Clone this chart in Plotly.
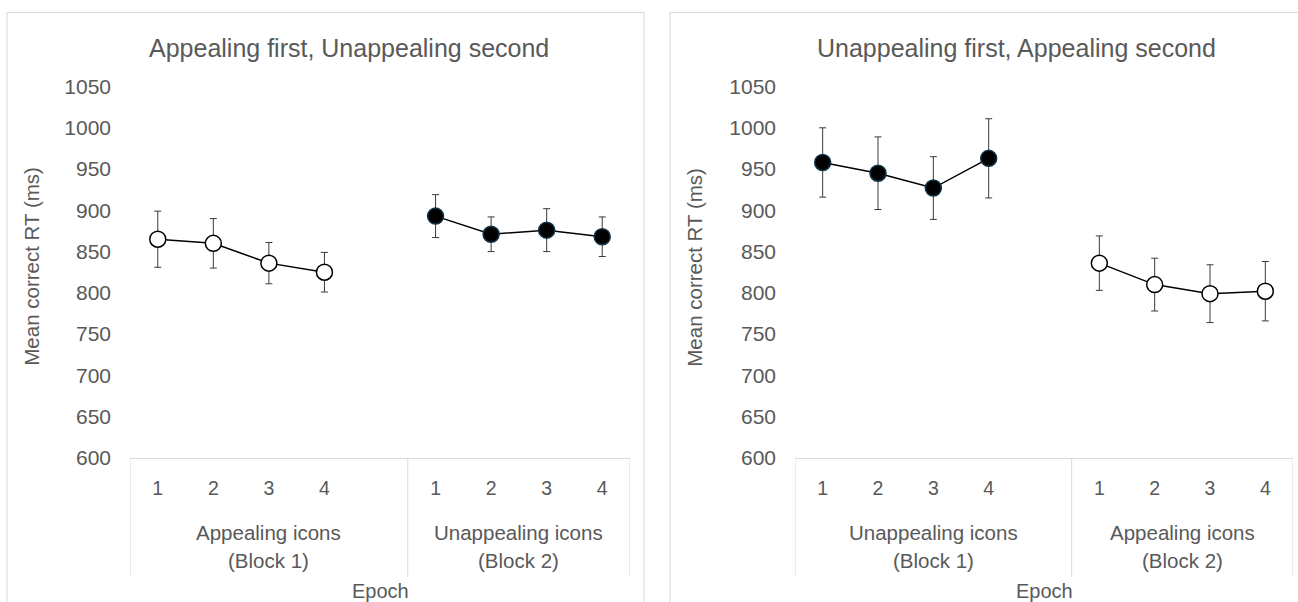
import plotly.graph_objects as go

# Epoch positions on the x axis (block 1 = 1..4, block 2 = 6..9, gap at 5)
epoch_labels = ["1", "2", "3", "4"]
block1_x = [1, 2, 3, 4]
block2_x = [6, 7, 8, 9]

# Left panel: appealing icons first, unappealing icons second
left_block1_rt = [865, 860, 836, 825]
left_block1_err = [34, 30, 25, 24]
left_block2_rt = [893, 871, 876, 868]
left_block2_err = [26, 21, 26, 24]

# Right panel: unappealing icons first, appealing icons second
right_block1_rt = [958, 945, 927, 963]
right_block1_err = [42, 44, 38, 48]
right_block2_rt = [836, 810, 799, 802]
right_block2_err = [33, 32, 35, 36]

panel_titles = ["Appealing first, Unappealing second",
                "Unappealing first, Appealing second"]
group_names = [[("Appealing icons", "(Block 1)"), ("Unappealing icons", "(Block 2)")],
               [("Unappealing icons", "(Block 1)"), ("Appealing icons", "(Block 2)")]]
y_tick_values = [600, 650, 700, 750, 800, 850, 900, 950, 1000, 1050]

W, H = 1298, 602
FONT = "Liberation Sans, Arial, sans-serif"
GREY = "#595959"
FRAME = "#d9d9d9"

# vertical layout helper: page pixel -> paper fraction
Y_OFF, Y_K = 11.5, 0.961


def px(x):
    return x / W


def py(y):
    yy = (y - Y_OFF) / Y_K
    return min(1.0, 1 - yy / H)


OPEN = dict(marker=dict(size=16, color="white", line=dict(color="black", width=1.5)))
FILLED = dict(marker=dict(size=16, color="black", line=dict(color="#123447", width=1.5)))

fig = go.Figure()

panels = [
    ("x", "y", left_block1_rt, left_block1_err, OPEN, left_block2_rt, left_block2_err, FILLED),
    ("x2", "y2", right_block1_rt, right_block1_err, FILLED, right_block2_rt, right_block2_err, OPEN),
]

for xa, ya, m1, e1, s1, m2, e2, s2 in panels:
    for xs, m, e, style in [(block1_x, m1, e1, s1), (block2_x, m2, e2, s2)]:
        fig.add_trace(go.Scatter(
            x=xs, y=m, xaxis=xa, yaxis=ya, mode="lines+markers",
            line=dict(color="black", width=1.5),
            error_y=dict(type="data", array=e, visible=True,
                         color="#3a3a3a", thickness=1, width=3.5),
            showlegend=False, hoverinfo="x+y", **style))

# Plot-area placement (pixels) of the two panels
plot_left = [(130, 630), (795, 1293)]
plot_top, plot_bottom = 86, 457
panel_frames = [(7, 644), (670, 1307)]
title_centers = [349, 1016]
ytitle_centers = [32, 695]

axis_common = dict(showgrid=False, zeroline=False)
for i, (x0, x1) in enumerate(plot_left):
    sfx = "" if i == 0 else str(i + 1)
    fig.update_layout(**{
        "xaxis" + sfx: dict(
            domain=[px(x0), px(x1)], range=[0.5, 9.5],
            anchor="y" + sfx,
            tickvals=block1_x + block2_x, ticktext=epoch_labels + epoch_labels,
            ticks="", showline=True, linecolor=FRAME, linewidth=1,
            tickfont=dict(family=FONT, size=19.5, color=GREY),
            ticklabelstandoff=13, **axis_common),
        "yaxis" + sfx: dict(
            domain=[py(plot_bottom), py(plot_top)], range=[600, 1050],
            anchor="x" + sfx, tickvals=y_tick_values, ticks="",
            showline=False,
            tickfont=dict(family=FONT, size=21, color=GREY),
            ticklabelstandoff=18, **axis_common),
    })

shapes = []
annotations = []
for i in range(2):
    xref = "x" if i == 0 else "x2"
    fx0, fx1 = panel_frames[i]
    # chart frame
    shapes.append(dict(type="rect", xref="paper", yref="paper",
                       x0=px(fx0), x1=px(fx1), y0=-0.1, y1=py(7) - 0.0008,
                       line=dict(color=FRAME, width=1)))
    # category group dividers
    for xv in [0.5, 5.5, 9.5]:
        shapes.append(dict(type="line", xref=xref, yref="paper",
                           x0=xv, x1=xv, y0=py(plot_bottom), y1=py(576),
                           line=dict(color=FRAME, width=1)))
    # group labels (two lines each)
    for xc, (line1, line2) in zip([3, 7.5], group_names[i]):
        for txt, yc in [(line1, 532), (line2, 560)]:
            annotations.append(dict(xref=xref, yref="paper", x=xc, y=py(yc),
                                    text=txt, showarrow=False, yanchor="middle",
                                    font=dict(family=FONT, size=20.5, color=GREY)))
    # axis titles
    annotations.append(dict(xref=xref, yref="paper", x=5, y=py(590),
                            text="Epoch", showarrow=False, yanchor="middle",
                            font=dict(family=FONT, size=20, color=GREY)))
    annotations.append(dict(xref="paper", yref="paper", x=px(ytitle_centers[i]),
                            y=py(266), text="Mean correct RT (ms)", textangle=-90,
                            showarrow=False, xanchor="center", yanchor="middle",
                            font=dict(family=FONT, size=20.5, color=GREY)))
    annotations.append(dict(xref="paper", yref="paper", x=px(title_centers[i]),
                            y=py(47), text=panel_titles[i], showarrow=False,
                            xanchor="center", yanchor="middle",
                            font=dict(family=FONT, size=25, color=GREY)))

fig.update_layout(
    width=W, height=H, margin=dict(l=0, r=0, t=0, b=0),
    paper_bgcolor="white", plot_bgcolor="white",
    shapes=shapes, annotations=annotations,
)

fig.write_html("out.html")
